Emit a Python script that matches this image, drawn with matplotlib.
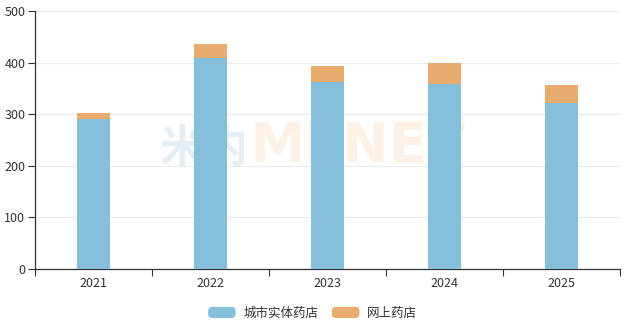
import matplotlib
matplotlib.use("Agg")
import matplotlib.pyplot as plt
from matplotlib.patches import FancyBboxPatch, Patch
from matplotlib.legend_handler import HandlerPatch

plt.rcParams['font.family'] = ['Noto Sans CJK SC', 'DejaVu Sans']

years = ["2021", "2022", "2023", "2024", "2025"]
offline = [290, 410, 362, 359, 322]   # 城市实体药店
online = [12, 27, 32, 41, 35]         # 网上药店
series_names = ["城市实体药店", "网上药店"]
y_ticks = [0, 100, 200, 300, 400, 500]

blue = "#86bfdc"
orange = "#e8ad6e"
text_c = "#333333"

fig = plt.figure(figsize=(6.25, 3.28), dpi=100)
ax = fig.add_axes([0.056, 0.181, 0.936, 0.784])

x = list(range(len(years)))
ax.bar(x, offline, width=0.28, color=blue, zorder=3)
ax.bar(x, online, width=0.28, bottom=offline, color=orange, zorder=3)

ax.set_xlim(-0.5, len(years) - 0.5)
ax.set_ylim(0, 500)
ax.set_yticks(y_ticks)
ax.yaxis.grid(True, color="#ebebeb", linewidth=0.8, zorder=0)

# category labels centred, ticks on band boundaries
ax.set_xticks([i - 0.5 for i in range(len(years) + 1)])
ax.set_xticklabels([])
ax.set_xticks(x, minor=True)
ax.set_xticklabels(years, minor=True)
ax.tick_params(axis="x", which="minor", length=0, pad=6, labelsize=9, labelcolor=text_c)
ax.tick_params(axis="x", which="major", length=5, color=text_c, width=0.8)
ax.tick_params(axis="y", length=5, color=text_c, width=0.8, labelsize=9, labelcolor=text_c, pad=2)

for side in ("top", "right"):
    ax.spines[side].set_visible(False)
for side in ("left", "bottom"):
    ax.spines[side].set_color(text_c)
    ax.spines[side].set_linewidth(0.9)

# faint watermark behind the bars
ax.text(0.256, 0.505, "米内", transform=fig.transFigure, fontsize=32, color="#e4edf2",
        fontweight="bold", ha="left", va="baseline", zorder=1)
ax.text(0.400, 0.505, "MENET", transform=fig.transFigure, fontsize=40, color="#fdf1e5",
        fontweight="bold", family="DejaVu Sans", ha="left", va="baseline", zorder=1)


class RoundHandler(HandlerPatch):
    def create_artists(self, legend, orig_handle, xdescent, ydescent, width,
                       height, fontsize, trans):
        p = FancyBboxPatch((-xdescent, -ydescent), width, height,
                           boxstyle="round,pad=0,rounding_size=3",
                           facecolor=orig_handle.get_facecolor(),
                           edgecolor="none", transform=trans)
        return [p]


handles = [Patch(facecolor=blue), Patch(facecolor=orange)]
fig.legend(handles, series_names, loc="center", bbox_to_anchor=(0.5, 0.045),
           ncol=2, frameon=False, fontsize=9, handlelength=2.2, handleheight=1.0,
           handletextpad=0.6, columnspacing=1.1, labelcolor=text_c,
           handler_map={Patch: RoundHandler()})

fig.savefig("out.png", dpi=100)
